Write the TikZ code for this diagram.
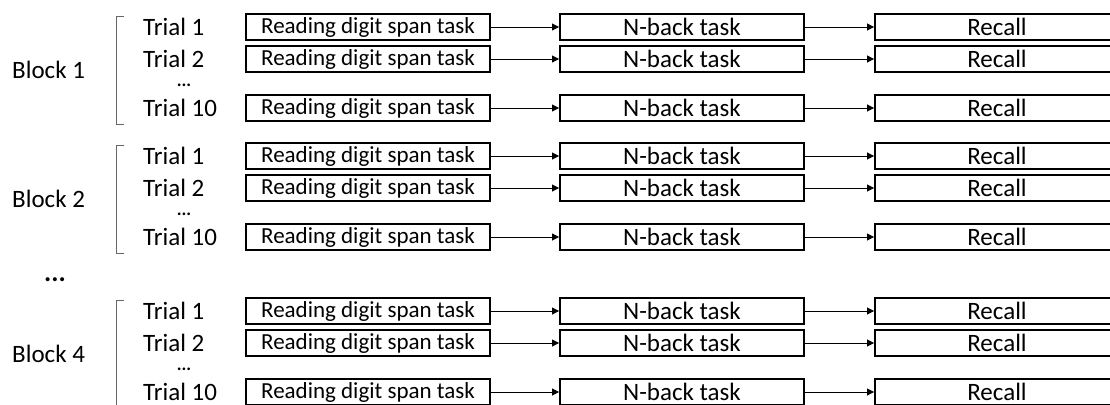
\documentclass[tikz,border=0pt]{standalone}
\usepackage{fontspec}
\setmainfont{Carlito}
\usetikzlibrary{arrows.meta}

\tikzset{
  taskbox/.style={draw=black, line width=1.9pt, minimum width=244pt, minimum height=26pt,
                  inner sep=0pt, font=\fontsize{25}{28}\selectfont},
  readbox/.style={taskbox, font=\fontsize{23}{26}\selectfont},
  flow/.style={line width=0.8pt, -{Triangle[length=7pt,width=7pt]}},
  trial/.style={anchor=west, inner sep=0pt, font=\fontsize{25}{28}\selectfont},
  blocklbl/.style={anchor=west, inner sep=0pt, font=\fontsize{25}{28}\selectfont},
  trialdots/.style={inner sep=0pt, font=\bfseries\fontsize{18}{18}\selectfont},
  blockdots/.style={inner sep=0pt, font=\bfseries\fontsize{27}{27}\selectfont},
  bracket/.style={line width=0.8pt, draw=black!60},
}

\begin{document}
\begin{tikzpicture}[x=1pt, y=-1pt]
  \useasboundingbox (0,0) rectangle (1110,404);
  \clip (0,0) rectangle (1110,404);

  % one block of three trials, shifted down by \base
  \foreach \blk/\base in {1/0, 2/129, 4/284} {
    % block label and bracket
    \node[blocklbl] (blk\blk) at (12, \base+70) {Block \blk};
    \coordinate (bt\blk) at (116, \base+16);
    \coordinate (bb\blk) at (116, \base+124);
    \draw[bracket] ([xshift=8pt]bt\blk) -- (bt\blk) -- (bb\blk) -- ([xshift=8pt]bb\blk);
    % trial dots between Trial 2 and Trial 10
    \node[trialdots, anchor=base] (td\blk) at (184, \base+86) {...};
    \foreach \row/\lbl/\yc in {1/1/27, 2/2/59, 3/10/108} {
      \node[trial] (t\blk-\row) at (143, \base+\yc) {Trial \lbl};
      \node[readbox] (r\blk-\row) at (368, \base+\yc) {Reading digit span task};
      \node[taskbox] (n\blk-\row) at (682, \base+\yc) {N-back task};
      \node[taskbox] (c\blk-\row) at (997, \base+\yc) {Recall};
      \draw[flow] (r\blk-\row.east) -- (n\blk-\row.west);
      \draw[flow] (n\blk-\row.east) -- (c\blk-\row.west);
    }
  }
  % dots between Block 2 and Block 4
  \node[blockdots, anchor=base] (bdots) at (55, 281) {...};
\end{tikzpicture}
\end{document}
